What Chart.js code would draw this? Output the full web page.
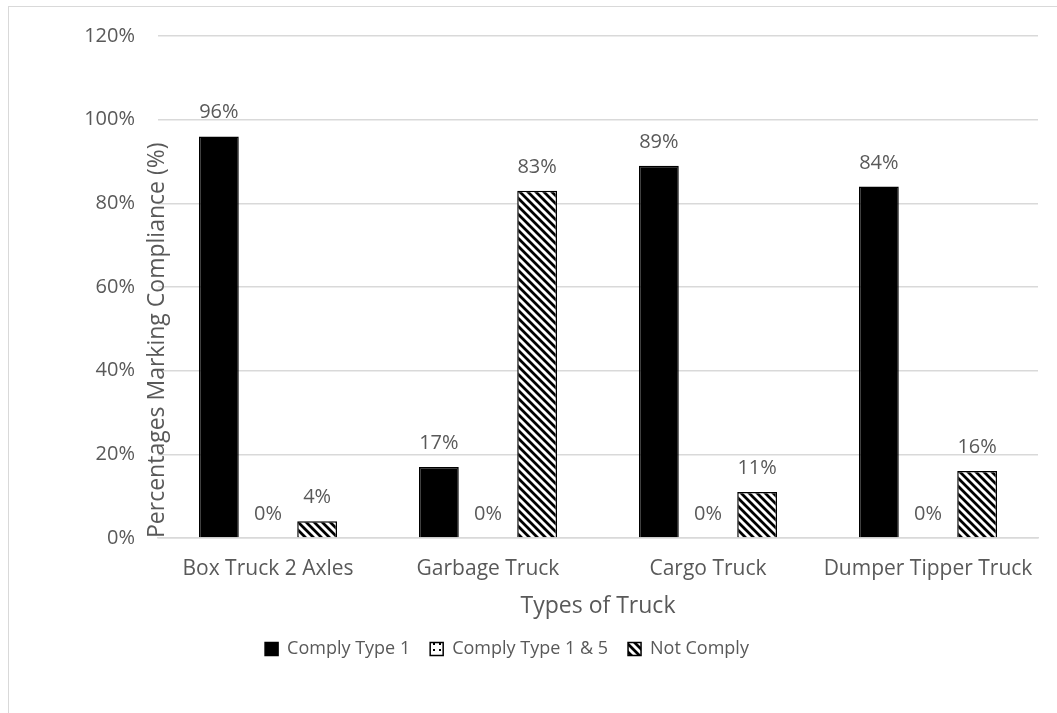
<!DOCTYPE html>
<html>
<head>
<meta charset="utf-8">
<script src="https://cdn.jsdelivr.net/npm/chart.js@4.4.1/dist/chart.umd.min.js"></script>
<style>
  html, body { margin: 0; padding: 0; background: #fff; overflow: hidden; }
  #frame { position: absolute; left: 8px; top: 6px; width: 1200px; height: 900px;
           border-left: 1px solid #d9d9d9; border-top: 1px solid #d9d9d9; }
  #wrap { position: absolute; left: 0; top: 0; width: 1057px; height: 713px; }
</style>
</head>
<body>
<div id="frame"></div>
<div id="wrap"><canvas id="truckChart"></canvas></div>
<script>
const categories = ['Box Truck 2 Axles', 'Garbage Truck', 'Cargo Truck', 'Dumper Tipper Truck'];
const complyType1 = [96, 17, 89, 84];
const complyType15 = [0, 0, 0, 0];
const notComply = [4, 83, 11, 16];
const yMax = 120;
const yStep = 20;

const textColor = '#595959';
const fontName = "'Open Sans', sans-serif";

// diagonal stripes like the Excel "wide downward diagonal" fill
function makeHatch() {
    const c = document.createElement('canvas');
    c.width = 8; c.height = 8;
    const g = c.getContext('2d');
    g.fillStyle = '#fff';
    g.fillRect(0, 0, 8, 8);
    g.strokeStyle = '#000';
    g.lineWidth = 2.8;
    g.beginPath();
    g.moveTo(-2, -2); g.lineTo(10, 10);
    g.moveTo(-2, 6); g.lineTo(2, 10);
    g.moveTo(6, -2); g.lineTo(10, 2);
    g.stroke();
    return g.createPattern(c, 'repeat');
}

function makeDots() {
    const c = document.createElement('canvas');
    c.width = 6; c.height = 6;
    const g = c.getContext('2d');
    g.fillStyle = '#fff';
    g.fillRect(0, 0, 6, 6);
    g.fillStyle = '#000';
    g.fillRect(1, 1, 2, 2);
    return g.createPattern(c, 'repeat');
}

const valueLabels = {
    id: 'valueLabels',
    afterDatasetsDraw(chart) {
        const ctx = chart.ctx;
        ctx.save();
        ctx.font = '20px ' + fontName;
        ctx.fillStyle = textColor;
        ctx.textAlign = 'center';
        ctx.textBaseline = 'alphabetic';
        chart.data.datasets.forEach((ds, i) => {
            const meta = chart.getDatasetMeta(i);
            meta.data.forEach((bar, j) => {
                ctx.fillText(ds.data[j] + '%', bar.x, bar.y - 18);
            });
        });
        ctx.restore();
    }
};

// move the legend a bit left, as in the original
const legendShift = {
    id: 'legendShift',
    afterLayout(chart) {
        chart.legend.left -= 16;
        chart.legend.right -= 16;
    }
};

const noZeroBorder = c => (c.type === 'data' && c.raw === 0) ? 0 : 1.5;

new Chart(document.getElementById('truckChart'), {
    type: 'bar',
    data: {
        labels: categories,
        datasets: [
            { label: 'Comply Type 1', data: complyType1, backgroundColor: '#000', borderColor: '#000', borderWidth: noZeroBorder },
            { label: 'Comply Type 1 & 5', data: complyType15, backgroundColor: makeDots(), borderColor: '#000', borderWidth: noZeroBorder },
            { label: 'Not Comply', data: notComply, backgroundColor: makeHatch(), borderColor: '#000', borderWidth: noZeroBorder }
        ]
    },
    options: {
        responsive: true,
        maintainAspectRatio: false,
        animation: false,
        categoryPercentage: 0.67,
        barPercentage: 0.81,
        layout: { padding: { top: 36, left: 8, right: 19, bottom: 45 } },
        plugins: {
            tooltip: { enabled: false },
            legend: {
                position: 'bottom',
                labels: {
                    color: textColor,
                    font: { family: fontName, size: 18 },
                    boxWidth: 13,
                    boxHeight: 13,
                    padding: 20,
                    generateLabels: chart => {
                        const items = Chart.defaults.plugins.legend.labels.generateLabels(chart);
                        items.forEach(it => { it.lineWidth = 1.5; it.strokeStyle = '#000'; });
                        return items;
                    }
                }
            }
        },
        scales: {
            x: {
                grid: { display: false, drawTicks: false },
                border: { color: '#d9d9d9', width: 1.5 },
                ticks: { color: textColor, font: { family: fontName, size: 21 }, padding: 18, maxRotation: 0, autoSkip: false },
                title: { display: true, text: 'Types of Truck', color: textColor, font: { family: fontName, size: 23 }, padding: { top: 4, bottom: 0 } },
                afterFit: scale => { scale.height = 82; }
            },
            y: {
                min: 0,
                max: yMax,
                grid: { color: '#d9d9d9', lineWidth: 1.5, drawTicks: false },
                border: { display: false },
                ticks: { stepSize: yStep, color: textColor, font: { family: fontName, size: 20 }, padding: 23, callback: v => v + '%' },
                title: { display: true, text: 'Percentages Marking Compliance (%)', color: textColor, font: { family: fontName, size: 23 }, align: 'start', padding: { top: 136, bottom: 0 } },
                afterFit: scale => { scale.width = 150; }
            }
        }
    },
    plugins: [valueLabels, legendShift]
});
</script>
</body>
</html>
